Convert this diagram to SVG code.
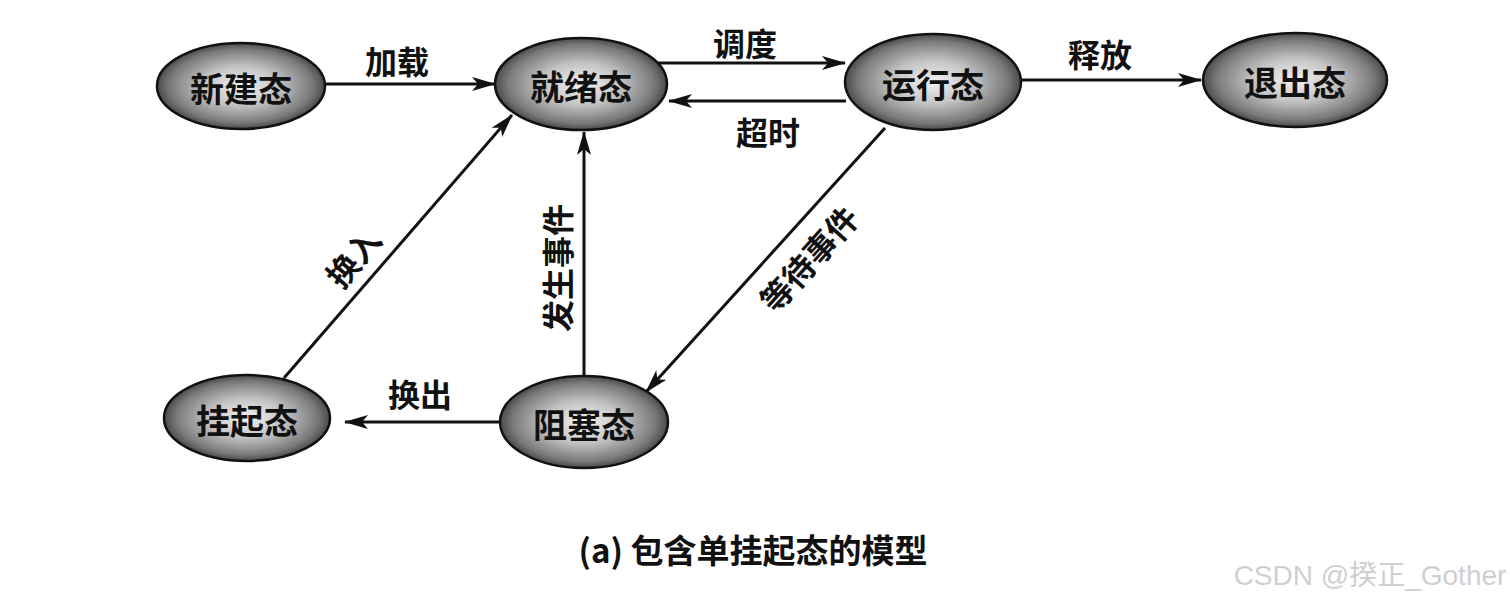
<svg xmlns="http://www.w3.org/2000/svg" width="1510" height="601" viewBox="0 0 1510 601">
<defs>
<radialGradient id="g" cx="50%" cy="50%" r="50%">
<stop offset="0" stop-color="#f2f2f2"/>
<stop offset="0.45" stop-color="#c4c4c4"/>
<stop offset="0.85" stop-color="#7a7a7a"/>
<stop offset="1" stop-color="#4a4a4a"/>
</radialGradient>
<marker id="ah" viewBox="0 0 24 14" refX="23" refY="7" markerWidth="24" markerHeight="14" markerUnits="userSpaceOnUse" orient="auto">
<path d="M0,0 L24,7 L0,14 L6,7 z" fill="#111"/>
</marker>
</defs>
<style>
.node ellipse{fill:url(#g);stroke:#111;stroke-width:2.5}
.node text{font-family:"Noto Sans CJK SC","Noto Sans",sans-serif;font-size:34px;font-weight:bold;fill:#111;text-anchor:middle;dominant-baseline:central}
.edges line{stroke:#111;stroke-width:3;marker-end:url(#ah)}
.lbl{font-family:"Noto Sans CJK SC","Noto Sans",sans-serif;font-size:32px;font-weight:bold;fill:#111;text-anchor:middle;dominant-baseline:central}
</style>
<rect width="1510" height="601" fill="#fff"/>
<g class="edges">
<line x1="325" y1="84" x2="495" y2="84"/>
<line x1="657" y1="63" x2="845" y2="63"/>
<line x1="846" y1="101" x2="669" y2="101"/>
<line x1="1022" y1="80" x2="1201" y2="80"/>
<line x1="885" y1="128" x2="646" y2="392"/>
<line x1="584" y1="377" x2="584" y2="132"/>
<line x1="284" y1="378" x2="512" y2="115"/>
<line x1="500" y1="422" x2="345" y2="422"/>
</g>
<g id="labels">
<text class="lbl" x="397" y="60">加载</text>
<text class="lbl" x="745" y="42">调度</text>
<text class="lbl" x="768" y="131">超时</text>
<text class="lbl" x="1100" y="53">释放</text>
<text class="lbl" x="420" y="393">换出</text>
<text class="lbl" transform="translate(352,257) rotate(-50)">换入</text>
<text class="lbl" transform="translate(556,268) rotate(-90)">发生事件</text>
<text class="lbl" transform="translate(808,258) rotate(-48)">等待事件</text>
</g>
<g id="n-new" class="node"><ellipse cx="241" cy="86" rx="84" ry="43"/><text x="241" y="87">新建态</text></g>
<g id="n-ready" class="node"><ellipse cx="581" cy="84" rx="86" ry="46"/><text x="581" y="85">就绪态</text></g>
<g id="n-run" class="node"><ellipse cx="933" cy="82" rx="88" ry="48"/><text x="933" y="83">运行态</text></g>
<g id="n-exit" class="node"><ellipse cx="1295" cy="80" rx="92" ry="47"/><text x="1295" y="81">退出态</text></g>
<g id="n-suspend" class="node"><ellipse cx="247" cy="418" rx="83" ry="43"/><text x="247" y="419">挂起态</text></g>
<g id="n-block" class="node"><ellipse cx="584" cy="422" rx="84" ry="46"/><text x="584" y="423">阻塞态</text></g>
<text x="753" y="549" style="font-family:'Noto Sans CJK SC','Noto Sans',sans-serif;font-size:33px;font-weight:bold;fill:#111;text-anchor:middle;dominant-baseline:central">(a) 包含单挂起态的模型</text>
<text x="1370" y="575" style="font-family:'Liberation Sans','Noto Sans CJK SC',sans-serif;font-size:28px;fill:#cfcfcf;text-anchor:middle;dominant-baseline:central">CSDN @揆正_Gother</text>
</svg>
